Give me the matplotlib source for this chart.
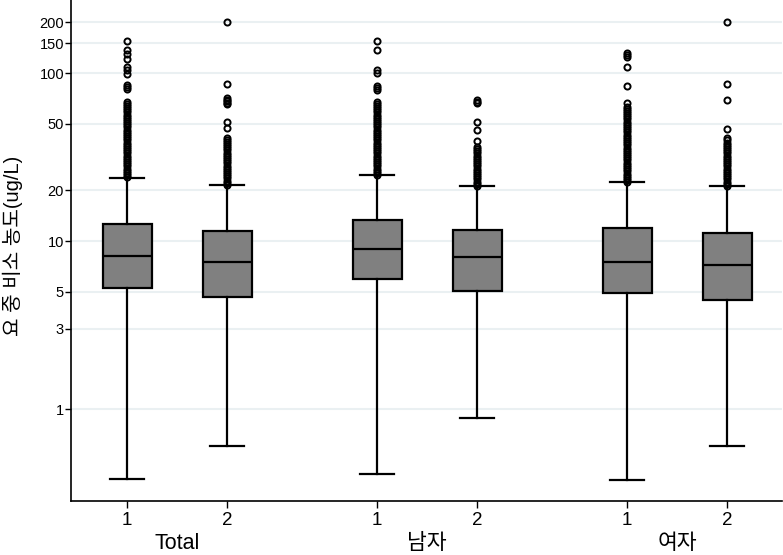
import matplotlib
matplotlib.use("Agg")
import matplotlib.pyplot as plt
from matplotlib.transforms import blended_transform_factory

plt.rcParams['font.family'] = ['Liberation Sans', 'Noto Sans CJK KR', 'DejaVu Sans']

# ---- data ----
groups = ["Total", "남자", "여자"]
box_labels = ["1", "2", "1", "2", "1", "2"]
positions = [1, 2, 3.5, 4.5, 6, 7]

q1 = [5.27, 4.66, 5.97, 5.06, 4.90, 4.47]
med = [8.14, 7.53, 8.96, 8.07, 7.53, 7.22]
q3 = [12.7, 11.5, 13.3, 11.6, 11.9, 11.2]
whislo = [0.382, 0.605, 0.41, 0.888, 0.38, 0.60]
whishi = [23.8, 21.6, 24.7, 21.3, 22.4, 21.3]

fliers_total_1 = [24, 24.7, 25.4, 26.2, 27, 27.8, 28.6, 29.5, 30.4, 31.3, 32.2, 33.2,
                  34.2, 35.2, 36.3, 37.4, 38.5, 39.7, 40.9, 42.1, 43.4, 44.7, 46, 47.4,
                  48.8, 50.3, 51.8, 53.3, 54.9, 56.6, 58.3, 60, 61.8, 63.7, 65.6, 67.5,
                  80, 82.2, 84.8, 98.6, 104, 109, 122, 130, 138, 155]
fliers_total_2 = [21.6, 22.2, 22.9, 23.6, 24.3, 25, 25.8, 26.5, 27.3, 28.1, 29, 29.8,
                  30.7, 31.7, 32.6, 33.6, 34.6, 35.6, 36.7, 37.8, 39, 40.1, 41.3,
                  46.9, 51.3, 65.3, 66.5, 68, 69.5, 70.7, 86.3, 201]
fliers_male_1 = [24.7, 25.4, 26.2, 27, 27.8, 28.6, 29.5, 30.4, 31.3, 32.2, 33.2, 34.2,
                 35.2, 36.3, 37.4, 38.5, 39.7, 40.9, 42.1, 43.4, 44.7, 46, 47.4, 48.8,
                 50.3, 51.8, 53.3, 54.9, 56.6, 58.3, 60, 61.8, 63.7, 65.6, 67.5,
                 79.6, 81.5, 83.6, 99.5, 104, 138, 155]
fliers_male_2 = [21.3, 21.9, 22.6, 23.3, 24, 24.7, 25.4, 26.2, 27, 27.8, 28.6, 29.5,
                 30.4, 31.3, 32.2, 33.2, 34.2, 35.3, 36.4,
                 39.5, 46, 51.3, 66, 67.5, 69]
fliers_female_1 = [22.4, 23.1, 23.8, 24.5, 25.2, 26, 26.8, 27.6, 28.4, 29.3, 30.2, 31.1,
                   32, 33, 34, 35, 36, 37.1, 38.2, 39.4, 40.6, 41.8, 43, 44.3, 45.6, 47,
                   48.4, 49.9, 51.4, 52.9, 54.5, 56.1, 57.8, 59.5, 61.3, 63.1,
                   66, 84, 108, 124, 128, 131]
fliers_female_2 = [21.3, 21.9, 22.6, 23.3, 24, 24.7, 25.4, 26.2, 27, 27.8, 28.6, 29.5,
                   30.4, 31.3, 32.2, 33.2, 34.2, 35.2, 36.3, 37.4, 38.5, 39.7, 40.9,
                   46.6, 69.3, 86.3, 201]
fliers = [fliers_total_1, fliers_total_2, fliers_male_1, fliers_male_2,
          fliers_female_1, fliers_female_2]

y_ticks = [1, 3, 5, 10, 20, 50, 100, 150, 200]

# ---- figure ----
fig = plt.figure(figsize=(7.83, 5.55), dpi=100)
ax = fig.add_axes([71 / 783, 54 / 555, 711 / 783, 501 / 555])

stats = []
for i in range(len(positions)):
    stats.append(dict(med=med[i], q1=q1[i], q3=q3[i], whislo=whislo[i],
                      whishi=whishi[i], fliers=fliers[i]))

ax.set_yscale('log')
ax.bxp(stats, positions=positions, widths=0.49, patch_artist=True,
       boxprops=dict(facecolor='#808080', edgecolor='black', linewidth=1.6),
       medianprops=dict(color='black', linewidth=1.6),
       whiskerprops=dict(color='black', linewidth=1.6),
       capprops=dict(color='black', linewidth=1.6),
       capwidths=0.34,
       flierprops=dict(marker='o', markerfacecolor='none', markeredgecolor='black',
                       markersize=4.4, markeredgewidth=1.4))

ax.set_ylim(0.2835, 272)
ax.set_xlim(0.44, 7.55)

ax.set_yticks(y_ticks)
ax.set_yticklabels([str(t) for t in y_ticks], fontsize=10.5)
ax.yaxis.set_minor_locator(matplotlib.ticker.NullLocator())
ax.grid(axis='y', color='#eaf0f2', linewidth=1.5, zorder=0)
ax.set_axisbelow(True)

ax.set_xticks(positions)
ax.set_xticklabels(box_labels, fontsize=13.5)
ax.tick_params(axis='x', length=5, width=1, pad=3)
ax.tick_params(axis='y', length=4, width=1, pad=1)

for s in ['top', 'right']:
    ax.spines[s].set_visible(False)
for s in ['left', 'bottom']:
    ax.spines[s].set_linewidth(1.2)

trans = blended_transform_factory(ax.transData, ax.transAxes)
centers = [(positions[0] + positions[1]) / 2, (positions[2] + positions[3]) / 2,
           (positions[4] + positions[5]) / 2]
for c, g in zip(centers, groups):
    ax.text(c, -0.084, g, transform=trans, ha='center', va='center', fontsize=15.5)

ax.set_ylabel("요 중 비소 농도(ug/L)", fontsize=14.5)
ax.yaxis.set_label_coords(-0.068, 0.51)

fig.savefig("out.png", dpi=100)
